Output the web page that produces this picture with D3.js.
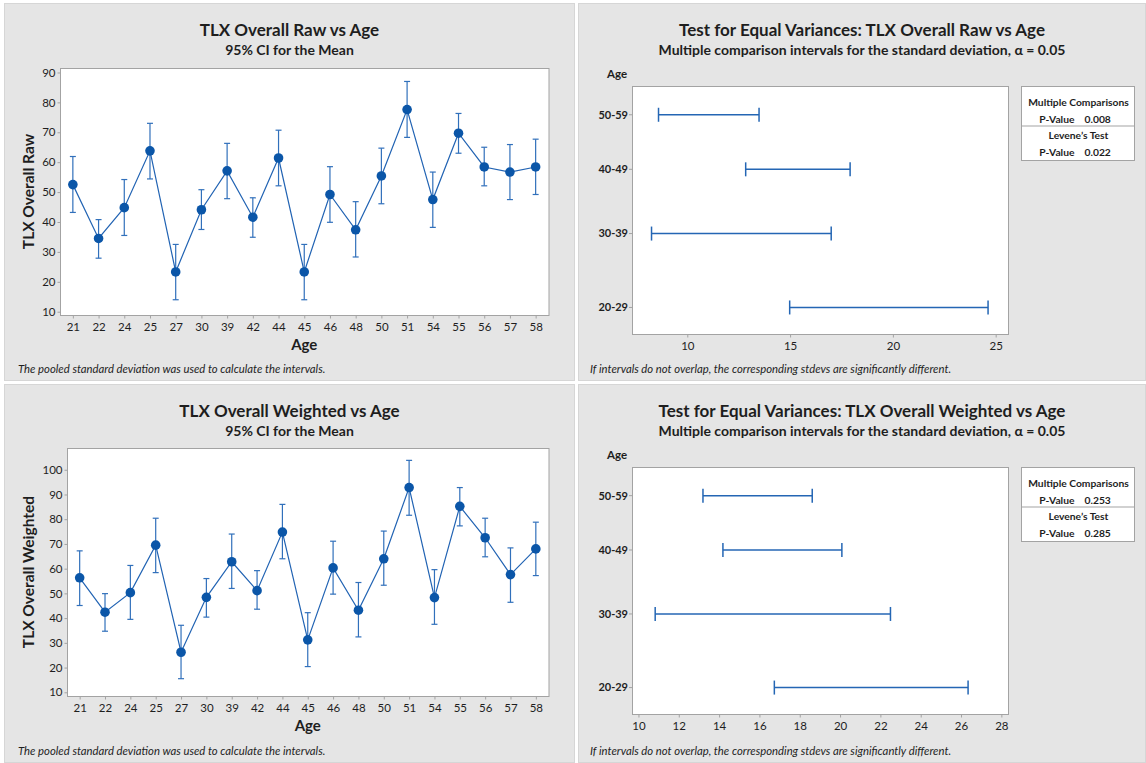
<!DOCTYPE html>
<html>
<head>
<meta charset="utf-8">
<script src="https://cdn.jsdelivr.net/npm/d3@7"></script>
<style>
  html, body { margin: 0; padding: 0; background: #ffffff; }
  svg { display: block; font-family: Lato, "Noto Sans", sans-serif; }
</style>
</head>
<body>
<svg id="chart" width="1146" height="763"></svg>
<script>
// ---------------- DATA ----------------
const ages = ["21","22","24","25","27","30","39","42","44","45","46","48","50","51","54","55","56","57","58"];

const rawMean  = [52.5, 34.5, 44.8, 63.8, 23.3, 44.1, 57.1, 41.6, 61.4, 23.3, 49.2, 37.4, 55.4, 77.6, 47.5, 69.7, 58.4, 56.7, 58.4];
const rawLower = [43.2, 27.9, 35.5, 54.4, 14.0, 37.5, 47.8, 34.9, 52.1, 14.0, 39.9, 28.3, 46.1, 68.3, 38.2, 63.0, 52.1, 47.5, 49.2];
const rawUpper = [61.9, 40.8, 54.2, 73.0, 32.5, 50.8, 66.3, 48.1, 70.7, 32.5, 58.5, 46.8, 64.7, 87.0, 56.7, 76.3, 65.0, 65.9, 67.7];

const wMean  = [56.3, 42.4, 50.3, 69.5, 26.2, 48.4, 62.8, 51.1, 74.8, 31.2, 60.3, 43.2, 64.0, 92.8, 48.3, 85.2, 72.5, 57.6, 68.0];
const wLower = [45.1, 34.7, 39.5, 58.4, 15.5, 40.4, 52.0, 43.6, 64.0, 20.4, 49.7, 32.4, 53.3, 81.6, 37.5, 77.3, 64.8, 46.4, 57.2];
const wUpper = [67.2, 49.9, 61.3, 80.4, 37.1, 56.0, 74.0, 59.2, 86.0, 42.2, 71.1, 54.4, 75.2, 103.8, 59.6, 92.8, 80.4, 68.4, 78.8];

const rawTicks = [10, 20, 30, 40, 50, 60, 70, 80, 90];
const wTicks = [10, 20, 30, 40, 50, 60, 70, 80, 90, 100];

const ageGroups = ["50-59", "40-49", "30-39", "20-29"];
const rawSdLower = [8.60, 12.84, 8.26, 14.98];
const rawSdUpper = [13.49, 17.92, 17.00, 24.63];
const wSdLower = [13.20, 14.19, 10.83, 16.74];
const wSdUpper = [18.62, 20.09, 22.50, 26.35];

const rawSdTicks = [10, 15, 20, 25];
const wSdTicks = [10, 12, 14, 16, 18, 20, 22, 24, 26, 28];

const rawPValues = { multiple: "0.008", levene: "0.022" };
const wPValues = { multiple: "0.253", levene: "0.285" };

// ---------------- STYLE ----------------
const PANEL_BG = "#e5e5e5";
const FRAME = "#a3a3a3";
const TEXT = "#1e1e1e";
const BLUE = "#0b56a8";
const BAR_BLUE = "#3170bb";

const svg = d3.select("#chart");

function panel(x, y, w, h) {
  svg.append("rect").attr("x", x + 0.5).attr("y", y + 0.5).attr("width", w - 1).attr("height", h - 1)
    .attr("fill", PANEL_BG).attr("stroke", "#d6d6d6").attr("stroke-width", 1);
}

function titles(cx, yTitle, title, sub, subSize) {
  svg.append("text").attr("x", cx).attr("y", yTitle).attr("text-anchor", "middle")
    .attr("font-size", 17).attr("font-weight", "bold").attr("fill", TEXT).text(title);
  svg.append("text").attr("x", cx).attr("y", yTitle + 19).attr("text-anchor", "middle")
    .attr("font-size", subSize).attr("font-weight", "bold").attr("fill", TEXT).text(sub);
}

function footnote(x, y, txt) {
  svg.append("text").attr("x", x).attr("y", y).attr("font-size", 11.3).attr("font-style", "italic")
    .attr("fill", TEXT).text(txt);
}

function styleAxis(g) {
  g.selectAll(".domain").remove();
  g.selectAll(".tick line").attr("stroke", FRAME);
  g.selectAll(".tick text").attr("fill", TEXT).attr("font-size", 11.5)
    .attr("font-family", "Lato, 'Noto Sans', sans-serif");
}

function meansPanel(cfg) {
  const { px, py, pw, ph, l, r, t, b, yDomain, ticks, means, lows, highs, title, yLabel } = cfg;
  panel(px, py, pw, ph);
  titles(px + pw / 2, py + 33, title, "95% CI for the Mean", 14);

  const x = d3.scalePoint().domain(ages).range([l, r]).padding(0.5);
  const y = d3.scaleLinear().domain(yDomain).range([b, t]);

  svg.append("rect").attr("x", l + 0.5).attr("y", t + 0.5).attr("width", r - l).attr("height", b - t)
    .attr("fill", "#ffffff").attr("stroke", FRAME);

  const gx = svg.append("g").attr("transform", `translate(0,${b + 0.5})`)
    .call(d3.axisBottom(x).tickSize(3).tickPadding(4));
  styleAxis(gx);
  const gy = svg.append("g").attr("transform", `translate(${l + 0.5},0)`)
    .call(d3.axisLeft(y).tickValues(ticks).tickSize(3).tickPadding(2));
  styleAxis(gy);

  svg.append("text").attr("x", (l + r) / 2).attr("y", b + 35).attr("text-anchor", "middle")
    .attr("font-size", 15).attr("font-weight", "bold").attr("fill", TEXT).text("Age");
  svg.append("text").attr("transform", `translate(${px + 30},${(t + b) / 2}) rotate(-90)`)
    .attr("text-anchor", "middle").attr("font-size", 15.5).attr("font-weight", "bold")
    .attr("fill", TEXT).text(yLabel);

  const data = ages.map((a, i) => ({ a, m: means[i], lo: lows[i], hi: highs[i] }));
  const g = svg.append("g");
  g.selectAll("line.v").data(data).join("line")
    .attr("x1", d => x(d.a)).attr("x2", d => x(d.a))
    .attr("y1", d => y(d.lo)).attr("y2", d => y(d.hi))
    .attr("stroke", BAR_BLUE).attr("stroke-width", 1.2);
  ["lo", "hi"].forEach(k => {
    g.selectAll("line.c" + k).data(data).join("line")
      .attr("x1", d => x(d.a) - 3).attr("x2", d => x(d.a) + 3)
      .attr("y1", d => y(d[k])).attr("y2", d => y(d[k]))
      .attr("stroke", BAR_BLUE).attr("stroke-width", 1.2);
  });
  g.append("path").datum(data)
    .attr("d", d3.line().x(d => x(d.a)).y(d => y(d.m)))
    .attr("fill", "none").attr("stroke", "#2163b3").attr("stroke-width", 1.2);
  g.selectAll("circle").data(data).join("circle")
    .attr("cx", d => x(d.a)).attr("cy", d => y(d.m)).attr("r", 4.8).attr("fill", BLUE);

  footnote(px + 14, py + ph - 8, "The pooled standard deviation was used to calculate the intervals.");
}

function varPanel(cfg) {
  const { px, py, pw, ph, l, r, t, b, xDomain, ticks, lows, highs, title, pv } = cfg;
  panel(px, py, pw, ph);
  titles(px + pw / 2, py + 33, title, "Multiple comparison intervals for the standard deviation, \u03b1 = 0.05", 14);

  const x = d3.scaleLinear().domain(xDomain).range([l, r]);
  const h = b - t;
  const y = d3.scaleOrdinal().domain(ageGroups)
    .range([t + h * 0.116, t + h * 0.336, t + h * 0.595, t + h * 0.893]);

  svg.append("rect").attr("x", l + 0.5).attr("y", t + 0.5).attr("width", r - l).attr("height", b - t)
    .attr("fill", "#ffffff").attr("stroke", FRAME);

  const gx = svg.append("g").attr("transform", `translate(0,${b + 0.5})`)
    .call(d3.axisBottom(x).tickValues(ticks).tickSize(3).tickPadding(4));
  styleAxis(gx);

  const gy = svg.append("g");
  ageGroups.forEach(gr => {
    gy.append("line").attr("x1", l - 3).attr("x2", l).attr("y1", y(gr)).attr("y2", y(gr)).attr("stroke", FRAME);
    gy.append("text").attr("x", l - 4).attr("y", y(gr)).attr("dy", "0.35em").attr("text-anchor", "end")
      .attr("font-size", 11).attr("font-weight", "bold").attr("fill", TEXT).text(gr);
  });
  svg.append("text").attr("x", l - 15).attr("y", t - 8).attr("text-anchor", "middle")
    .attr("font-size", 11.5).attr("font-weight", "bold").attr("fill", TEXT).text("Age");

  const data = ageGroups.map((gr, i) => ({ gr, lo: lows[i], hi: highs[i] }));
  const g = svg.append("g");
  g.selectAll("line.h").data(data).join("line")
    .attr("x1", d => x(d.lo)).attr("x2", d => x(d.hi))
    .attr("y1", d => y(d.gr)).attr("y2", d => y(d.gr))
    .attr("stroke", "#2466b4").attr("stroke-width", 1.5);
  ["lo", "hi"].forEach(k => {
    g.selectAll("line.c" + k).data(data).join("line")
      .attr("x1", d => x(d[k])).attr("x2", d => x(d[k]))
      .attr("y1", d => y(d.gr) - 7).attr("y2", d => y(d.gr) + 7)
      .attr("stroke", "#2466b4").attr("stroke-width", 1.5);
  });

  const bx = r + 13, bw = 113, by = t, bh = 74;
  svg.append("rect").attr("x", bx + 0.5).attr("y", by + 0.5).attr("width", bw).attr("height", bh)
    .attr("fill", "#ffffff").attr("stroke", FRAME);
  svg.append("line").attr("x1", bx).attr("x2", bx + bw + 1).attr("y1", by + 40).attr("y2", by + 40)
    .attr("stroke", FRAME);
  const lc = bx + bw / 2 + 1;
  const rows = [
    ["Multiple Comparisons", null, 16],
    ["P-Value", pv.multiple, 33],
    ["Levene\u2019s Test", null, 49.5],
    ["P-Value", pv.levene, 66]
  ];
  rows.forEach(([a, v, dy]) => {
    if (v === null) {
      svg.append("text").attr("x", lc).attr("y", by + dy).attr("dy", "0.35em").attr("text-anchor", "middle")
        .attr("font-size", 10.3).attr("font-weight", "bold").attr("fill", TEXT).text(a);
    } else {
      svg.append("text").attr("x", lc - 4).attr("y", by + dy).attr("dy", "0.35em").attr("text-anchor", "end")
        .attr("font-size", 10.3).attr("font-weight", "bold").attr("fill", TEXT).text(a);
      svg.append("text").attr("x", lc + 6).attr("y", by + dy).attr("dy", "0.35em").attr("text-anchor", "start")
        .attr("font-size", 10.3).attr("font-weight", "bold").attr("fill", TEXT).text(v);
    }
  });

  footnote(px + 12, py + ph - 8, "If intervals do not overlap, the corresponding stdevs are significantly different.");
}

meansPanel({
  px: 4, py: 3, pw: 571, ph: 378, l: 60, r: 548.5, t: 68, b: 315,
  yDomain: [8.9, 91.5], ticks: rawTicks, means: rawMean, lows: rawLower, highs: rawUpper,
  title: "TLX Overall Raw vs Age", yLabel: "TLX Overall Raw"
});
meansPanel({
  px: 4, py: 384, pw: 571, ph: 379, l: 67, r: 548.5, t: 448, b: 696,
  yDomain: [8.5, 108.8], ticks: wTicks, means: wMean, lows: wLower, highs: wUpper,
  title: "TLX Overall Weighted vs Age", yLabel: "TLX Overall Weighted"
});
varPanel({
  px: 578, py: 3, pw: 568, ph: 378, l: 632, r: 1008, t: 86, b: 334,
  xDomain: [7.31, 25.6], ticks: rawSdTicks, lows: rawSdLower, highs: rawSdUpper,
  title: "Test for Equal Variances: TLX Overall Raw vs Age", pv: rawPValues
});
varPanel({
  px: 578, py: 384, pw: 568, ph: 379, l: 632, r: 1008, t: 467, b: 714,
  xDomain: [9.68, 28.33], ticks: wSdTicks, lows: wSdLower, highs: wSdUpper,
  title: "Test for Equal Variances: TLX Overall Weighted vs Age", pv: wPValues
});
</script>
</body>
</html>
